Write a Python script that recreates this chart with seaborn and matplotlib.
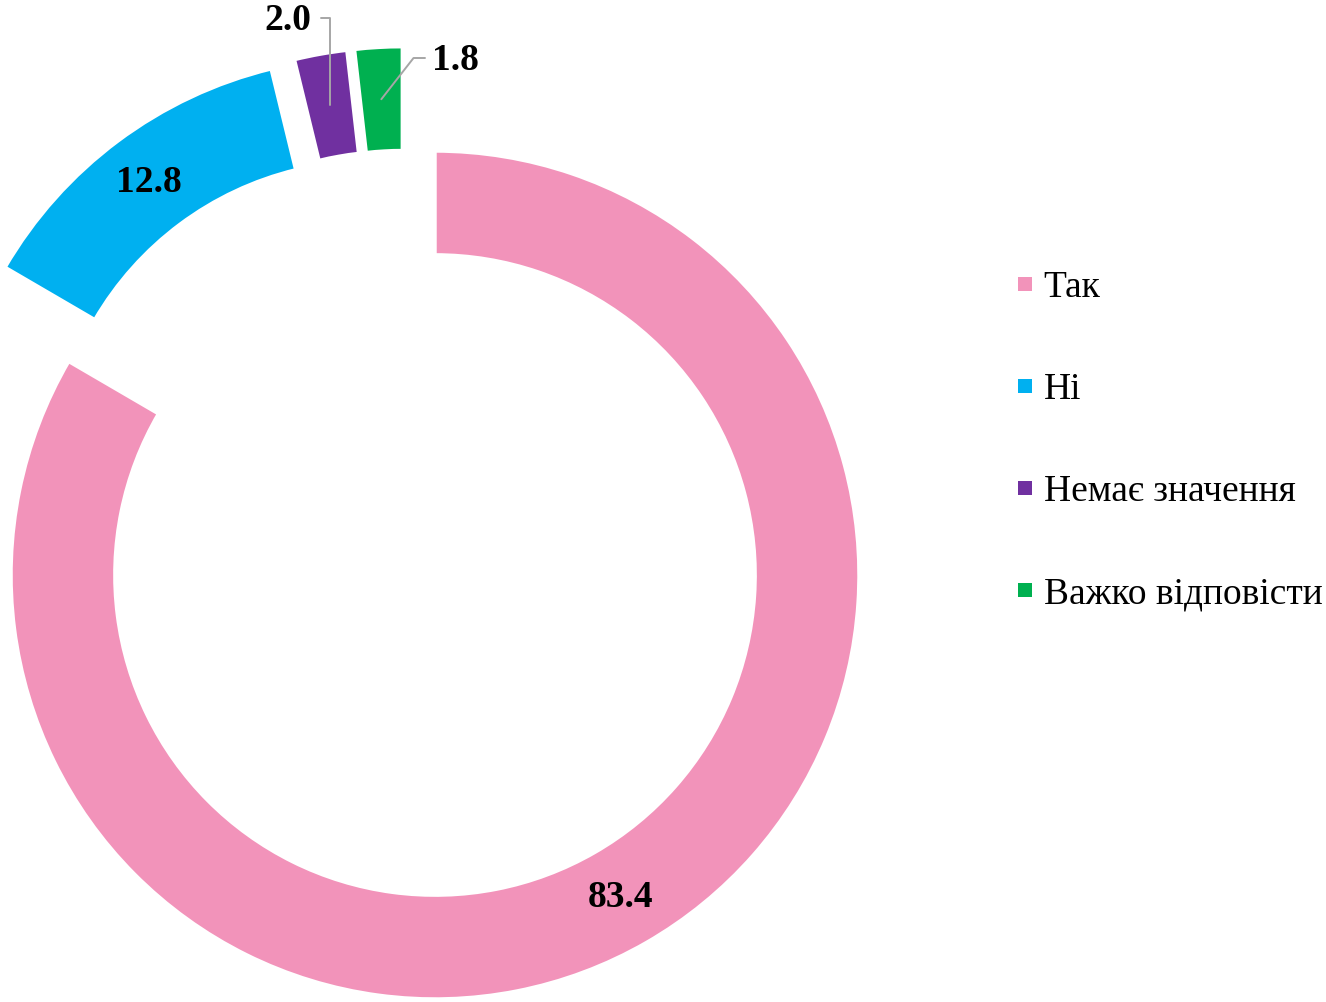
import numpy as np
import seaborn as sns
import matplotlib.pyplot as plt
from matplotlib.lines import Line2D

categories = ['Так', 'Ні', 'Немає значення', 'Важко відповісти']
values = [83.4, 12.8, 2.0, 1.8]
colors = ['#F293BA', '#00B0F0', '#7030A0', '#00B050']
# how far each slice is pulled out of the ring (x, y in radius units)
offsets = [(0.0, 0.0), (-0.150, 0.222), (-0.095, 0.244), (-0.077, 0.246)]

sns.set_theme(style='white')
plt.rcParams['font.family'] = ['Liberation Serif', 'DejaVu Serif']
plt.rcParams['text.color'] = 'black'

W, H = 1326, 1002
cx, cy, R = 435, 575, 424  # pixel centre and radius of the ring


def px(x, y):
    # pixel position -> data units of the pie axes
    return ((x - cx) / R, (cy - y) / R)


fig = plt.figure(figsize=(W / 100, H / 100), dpi=100)
ax = fig.add_axes([0, 0, 1, 1])

wedges, _ = ax.pie(values, colors=colors, startangle=90,
                   counterclock=False, radius=1.0,
                   wedgeprops=dict(width=0.245, linewidth=2.5, edgecolor='white'))
for w, off in zip(wedges, offsets):
    w.set_center(off)

ax.set_xlim(-cx / R, (W - cx) / R)
ax.set_ylim(-(H - cy) / R, cy / R)
ax.set_aspect('equal')
ax.axis('off')


def ring_mid(w):
    ang = np.deg2rad((w.theta1 + w.theta2) / 2)
    r = w.r - w.width / 2
    return w.center[0] + r * np.cos(ang), w.center[1] + r * np.sin(ang)


lab_kw = dict(fontsize=27, fontweight='bold', color='black')

# inside labels
for w, v in zip(wedges[:2], values[:2]):
    x, y = ring_mid(w)
    ax.text(x, y, f'{v:.1f}', ha='center', va='center', **lab_kw)

# outside labels with leader lines
line_kw = dict(arrowstyle='-', color='#A6A6A6', lw=1.4, shrinkA=0, shrinkB=0)
x, y = ring_mid(wedges[2])
ax.annotate('', xy=(x, y), xytext=px(321, 18),
            arrowprops=dict(connectionstyle='angle,angleA=0,angleB=90,rad=0', **line_kw))
ax.text(*px(311, 20), f'{values[2]:.1f}', ha='right', va='center', **lab_kw)

x, y = ring_mid(wedges[3])
ax.annotate('', xy=(x, y), xytext=px(425, 58),
            arrowprops=dict(connectionstyle='angle,angleA=0,angleB=52,rad=0', **line_kw))
ax.text(*px(432, 60), f'{values[3]:.1f}', ha='left', va='center', **lab_kw)

handles = [Line2D([], [], marker='s', linestyle='none', markersize=10,
                  markerfacecolor=c, markeredgewidth=0) for c in colors]
fig.legend(handles, categories, loc='center left', bbox_to_anchor=(1010 / W, 1 - 441 / H),
           frameon=False, fontsize=27, labelspacing=1.8, handletextpad=0.1,
           handlelength=0.8, borderpad=0, borderaxespad=0, labelcolor='black')

plt.savefig('out.png', dpi=100)
